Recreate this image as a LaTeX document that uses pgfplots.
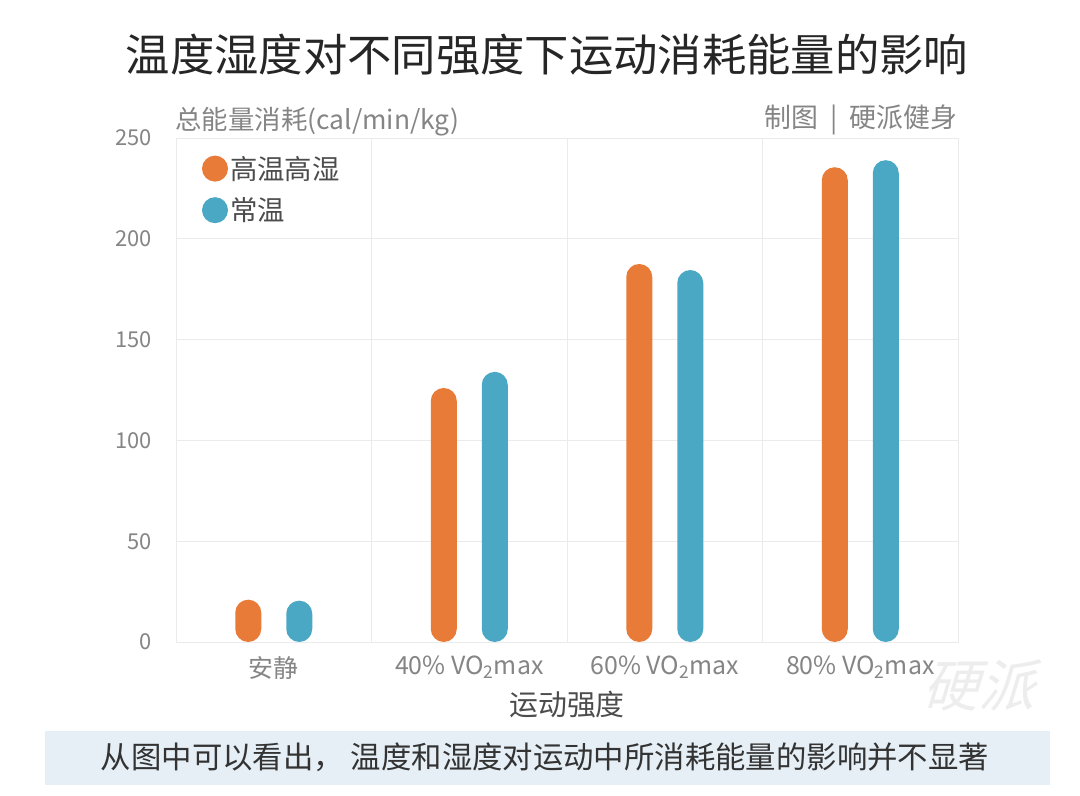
\documentclass[border=0pt]{standalone}
\usepackage{fontspec}
\setmainfont{Noto Sans CJK SC}
\usepackage{pgfplots}
\pgfplotsset{compat=1.18}

\definecolor{hot}{HTML}{E97B38}
\definecolor{norm}{HTML}{4BA8C5}
\definecolor{gridc}{HTML}{EBEBEB}
\definecolor{tickc}{HTML}{858585}
\definecolor{bannerc}{HTML}{E6EFF5}

\begin{document}
\begin{tikzpicture}[x=1bp,y=1bp]
\useasboundingbox (0,0) rectangle (1080,796);
\fill[white] (0,0) rectangle (1080,796);
% watermark and banner
\node[font=\fontsize{56}{60}\selectfont, text=black!7, xslant=0.3] at (985,111) {硬派};
\fill[bannerc] (45,11) rectangle (1050,65);
\node[font=\fontsize{30.5}{34}\selectfont, text=black!80] at (545,39)
  {从图中可以看出， 温度和湿度对运动中所消耗能量的影响并不显著};
% title and notes
\node[font=\fontsize{44.5}{52}\selectfont, text=black!85] at (547,741)
  {温度湿度对不同强度下运动消耗能量的影响};
\node[font=\fontsize{26.5}{30}\selectfont, text=tickc, anchor=west] at (172,674)
  {总能量消耗(cal/min/kg)};
\node[font=\fontsize{27}{30}\selectfont, text=tickc, anchor=east] at (961,676)
  {制图\hspace{12bp}|\hspace{12bp}硬派健身};

\begin{axis}[
    at={(176bp,154bp)}, anchor=south west,
    scale only axis, width=782bp, height=504bp,
    xmin=-0.5, xmax=3.5, ymin=0, ymax=250,
    xtick={0,1,2,3},
    xticklabels={安静, 40\% VO\textsubscript{2}max, 60\% VO\textsubscript{2}max, 80\% VO\textsubscript{2}max},
    minor xtick={0.5,1.5,2.5},
    ytick={0,50,...,250},
    axis line style={gridc, line width=0.8bp},
    ymajorgrids, xminorgrids,
    grid style={gridc, line width=0.8bp},
    minor grid style={gridc, line width=0.8bp},
    major tick length=0pt, minor tick length=0pt,
    tick label style={text=tickc},
    /pgf/number format/assume math mode=true,
    yticklabel style={font=\fontsize{22}{26}\selectfont, inner sep=0pt, xshift=-24bp},
    xticklabel style={font=\fontsize{25}{30}\selectfont, inner sep=0pt, yshift=-14bp},
    xlabel={运动强度},
    xlabel style={at={(axis description cs:0.5,0)}, anchor=center, yshift=-63bp,
        font=\fontsize{29}{34}\selectfont, text=black!70},
    ybar=25bp, bar width=26bp,
    legend image code/.code={\fill[#1] (0bp,0bp) circle (13bp);},
    legend cell align=left,
    legend style={draw=none, fill=none, at={(axis description cs:0.033,0.968)},
        anchor=north west, inner sep=0pt, row sep=13bp,
        font=\fontsize{27.5}{32}\selectfont, text=black!70,
        nodes={inner sep=2bp}},
]
\addplot[fill=hot, draw=none, rounded corners=13bp]
    coordinates {(0,21) (1,126) (2,187.5) (3,235.5)};
\addplot[fill=norm, draw=none, rounded corners=13bp]
    coordinates {(0,20.5) (1,134) (2,184.5) (3,239)};
\legend{高温高湿, 常温}
\end{axis}
\end{tikzpicture}
\end{document}
